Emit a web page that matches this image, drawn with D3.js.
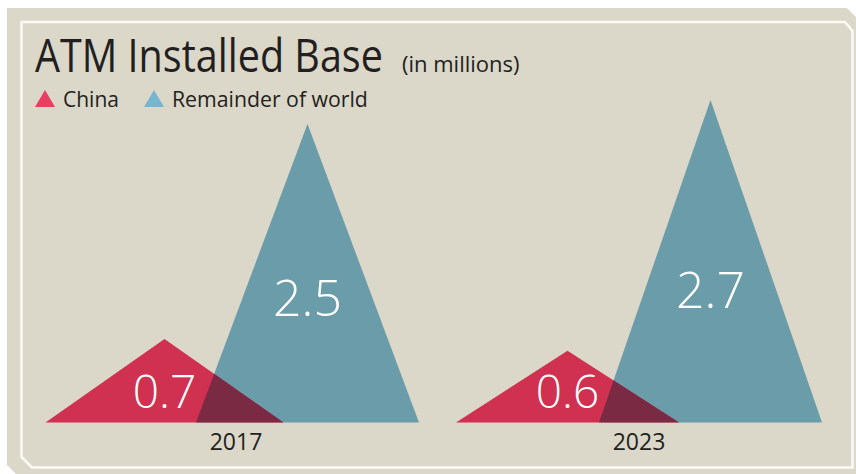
<!DOCTYPE html>
<html>
<head>
<meta charset="utf-8">
<script src="https://cdn.jsdelivr.net/npm/d3@7"></script>
<style>
  html, body { margin: 0; padding: 0; background: #fff; }
  svg { display: block; font-family: "Open Sans", sans-serif; }
</style>
</head>
<body>
<svg id="chart" width="856" height="474"></svg>
<script>
// data
const years = ["2017", "2023"];
const series = ["China", "Remainder of world"];
const china = [0.7, 0.6];
const remainder = [2.5, 2.7];

const colors = { fill: ["#d13150", "#6a9da9"], legend: ["#ea3d62", "#77b6d3"], overlap: "#7b2a44" };
// half base width of each triangle, per series per year
const halfBase = [[119, 111.5], [111.5, 111.5]];

const svg = d3.select("#chart");

// frame: beige plate with two chamfered corners and a white inner rule
svg.append("path")
  .attr("d", "M7,8 L847,8 L856,17 L856,474 L16,474 L7,465 Z")
  .attr("fill", "#dbd7c9");
svg.append("path")
  .attr("d", "M21.5,22 L845,22 L852.5,31 L852.5,467.5 L32,467.5 L21.5,457 Z")
  .attr("fill", "none")
  .attr("stroke", "#fbfaf6")
  .attr("stroke-width", 2.5);

// squeeze a text horizontally to a target width (the original face is narrower)
function fitWidth(sel, x0, w) {
  const s = w / sel.node().getComputedTextLength();
  sel.attr("x", 0).attr("transform", `translate(${x0},0) scale(${s},1)`);
  return sel;
}

// title
fitWidth(svg.append("text")
  .attr("y", 72)
  .attr("font-size", 45).attr("fill", "#231f20")
  .text("ATM Installed Base"), 35, 348);
svg.append("text")
  .attr("x", 402).attr("y", 72)
  .attr("font-size", 22).attr("fill", "#231f20")
  .text("(in millions)");

// legend
const legendX = [35, 144];
const legendW = [56, 196];
series.forEach((s, i) => {
  const lx = legendX[i];
  svg.append("path")
    .attr("d", `M${lx},107 L${lx + 20},107 L${lx + 10},90 Z`)
    .attr("fill", colors.legend[i]);
  fitWidth(svg.append("text")
    .attr("y", 107)
    .attr("font-size", 22).attr("fill", "#231f20")
    .text(s), lx + 28, legendW[i]);
});

// scales
const x = d3.scalePoint().domain(years).range([236, 639]);
const offset = d3.scalePoint().domain(series).range([-71.5, 71.5]);
const y = d3.scaleLinear().domain([0, 2.7]).range([422.5, 100]);

function tri(cx, hw, v) {
  return `M${cx - hw},${y(0)} L${cx + hw},${y(0)} L${cx},${y(v)} Z`;
}

const defs = svg.append("defs");

years.forEach((yr, j) => {
  const cC = x(yr) + offset(series[0]);
  const cR = x(yr) + offset(series[1]);
  const g = svg.append("g");

  g.append("path").attr("d", tri(cR, halfBase[1][j], remainder[j])).attr("fill", colors.fill[1]);
  g.append("path").attr("d", tri(cC, halfBase[0][j], china[j])).attr("fill", colors.fill[0]);

  // overlap drawn as china triangle clipped to remainder triangle
  defs.append("clipPath").attr("id", "clip" + j)
    .append("path").attr("d", tri(cR, halfBase[1][j], remainder[j]));
  g.append("path")
    .attr("d", tri(cC, halfBase[0][j], china[j]))
    .attr("fill", colors.overlap)
    .attr("clip-path", `url(#clip${j})`);

  // value labels
  g.append("text")
    .attr("x", cC).attr("y", y(0) - 15)
    .attr("text-anchor", "middle")
    .attr("font-size", 46).attr("font-weight", 300).attr("fill", "#fff")
    .text(china[j]);
  g.append("text")
    .attr("x", cR).attr("y", y(remainder[j] * 0.355))
    .attr("text-anchor", "middle")
    .attr("font-size", 50).attr("font-weight", 300).attr("fill", "#fff")
    .text(remainder[j]);

  // year
  g.append("text")
    .attr("x", x(yr)).attr("y", 450)
    .attr("text-anchor", "middle")
    .attr("font-size", 23).attr("fill", "#231f20")
    .text(yr);
});
</script>
</body>
</html>
